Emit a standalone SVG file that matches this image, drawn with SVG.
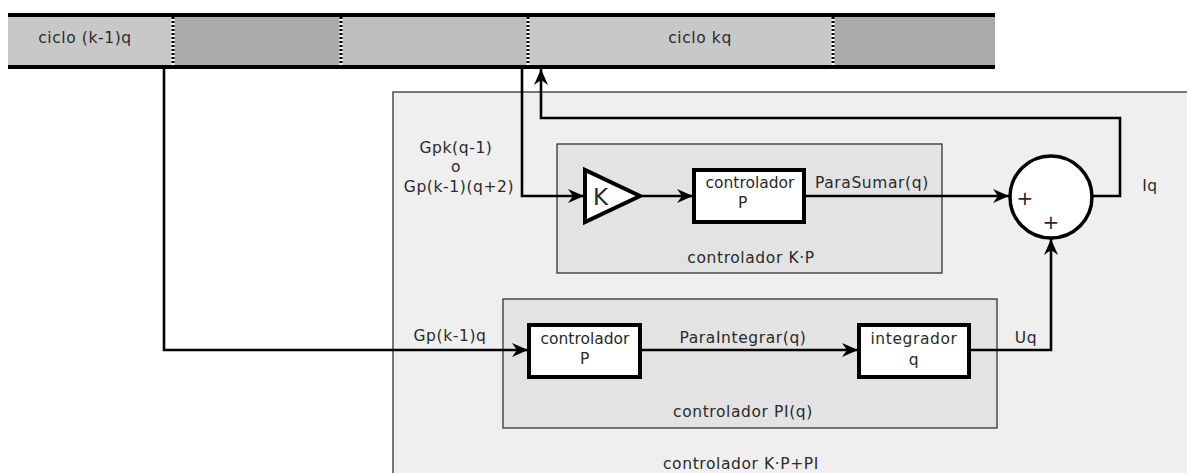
<svg xmlns="http://www.w3.org/2000/svg" width="1187" height="473" viewBox="0 0 1187 473">
<defs>
<style>
text{font-family:"DejaVu Sans",Verdana,sans-serif;font-size:15.5px;letter-spacing:0.6px;fill:#2a2a2a}
.c{text-anchor:middle}
.cont{stroke:#333;stroke-width:1.3}
.blk{fill:#fff;stroke:#000;stroke-width:4}
.wire{fill:none;stroke:#000;stroke-width:2.6}
.sep1{stroke:#fff;stroke-width:3}
.sep2{stroke:#000;stroke-width:3;stroke-dasharray:2,2}
</style>
<marker id="ar" markerWidth="17" markerHeight="16" viewBox="-16 -8 17 16" refX="0" refY="0" orient="auto" markerUnits="userSpaceOnUse">
<path d="M0,0 L-16,-7 L-11,0 L-16,7 Z" fill="#000"/>
</marker>
</defs>
<rect width="1187" height="473" fill="#fff"/>
<g id="timeline">
<rect x="8" y="16" width="165" height="50" fill="#c8c8c8"/>
<rect x="173" y="16" width="168" height="50" fill="#aaaaaa"/>
<rect x="341" y="16" width="187" height="50" fill="#bdbdbd"/>
<rect x="528" y="16" width="305" height="50" fill="#c8c8c8"/>
<rect x="833" y="16" width="162" height="50" fill="#aaaaaa"/>
<line x1="8" y1="15" x2="995" y2="15" stroke="#000" stroke-width="4"/>
<line x1="8" y1="67" x2="995" y2="67" stroke="#000" stroke-width="4"/>
<g>
<line class="sep1" x1="173" y1="17" x2="173" y2="65"/><line class="sep2" x1="173" y1="17" x2="173" y2="65"/>
<line class="sep1" x1="341" y1="17" x2="341" y2="65"/><line class="sep2" x1="341" y1="17" x2="341" y2="65"/>
<line class="sep1" x1="528" y1="17" x2="528" y2="65"/><line class="sep2" x1="528" y1="17" x2="528" y2="65"/>
<line class="sep1" x1="833" y1="17" x2="833" y2="65"/><line class="sep2" x1="833" y1="17" x2="833" y2="65"/>
</g>
<text x="85" y="43" class="c">ciclo (k-1)q</text>
<text x="700" y="43" class="c">ciclo kq</text>
</g>
<g id="outer">
<rect class="cont" x="393" y="92" width="800" height="390" fill="#efefef"/>
<text x="741" y="469" class="c">controlador K·P+PI</text>
</g>
<g id="kp">
<rect class="cont" x="557" y="144" width="385" height="129" fill="#e3e3e3"/>
<text x="751" y="263" class="c">controlador K·P</text>
</g>
<g id="pi">
<rect class="cont" x="503" y="299" width="494" height="129" fill="#e3e3e3"/>
<text x="743" y="417" class="c">controlador PI(q)</text>
</g>
<g id="gain">
<polygon class="blk" points="585,170 585,222 640,196" stroke-linejoin="miter"/>
<text x="593" y="205" style="font-size:23px;letter-spacing:0">K</text>
</g>
<g id="ctrlP1">
<rect class="blk" x="694" y="170" width="110" height="52"/>
<text x="750" y="188" class="c" style="letter-spacing:0">controlador</text>
<text x="743" y="208" class="c">P</text>
</g>
<g id="ctrlP2">
<rect class="blk" x="529" y="325" width="111" height="52"/>
<text x="585" y="344" class="c" style="letter-spacing:0">controlador</text>
<text x="585" y="364" class="c">P</text>
</g>
<g id="integ">
<rect class="blk" x="859" y="325" width="110" height="52"/>
<text x="914" y="344" class="c">integrador</text>
<text x="914" y="365" class="c">q</text>
</g>
<g id="sum">
<circle cx="1051" cy="197" r="41" fill="#fff" stroke="#000" stroke-width="3.5"/>
<text x="1025" y="205" class="c" style="font-size:20px;letter-spacing:0">+</text>
<text x="1051" y="229" class="c" style="font-size:20px;letter-spacing:0">+</text>
</g>
<g id="connectors">
<polyline class="wire" points="522,69 522,196 584,196" marker-end="url(#ar)"/>
<polyline class="wire" points="642,196 693,196" marker-end="url(#ar)"/>
<polyline class="wire" points="806,196 1009,196" marker-end="url(#ar)"/>
<polyline class="wire" points="1092,196 1120,196 1120,118 541,118 541,69" marker-end="url(#ar)"/>
<polyline class="wire" points="164,69 164,350 528,350" marker-end="url(#ar)"/>
<polyline class="wire" points="642,350 858,350" marker-end="url(#ar)"/>
<polyline class="wire" points="971,350 1051,350 1051,239" marker-end="url(#ar)"/>
</g>
<g id="labels">
<text x="456" y="153" class="c">Gpk(q-1)</text>
<text x="456" y="172" class="c">o</text>
<text x="459" y="192" class="c">Gp(k-1)(q+2)</text>
<text x="815" y="188">ParaSumar(q)</text>
<text x="1150" y="191" class="c">Iq</text>
<text x="450" y="341" class="c">Gp(k-1)q</text>
<text x="743" y="343" class="c">ParaIntegrar(q)</text>
<text x="1026" y="343" class="c">Uq</text>
</g>
</svg>
